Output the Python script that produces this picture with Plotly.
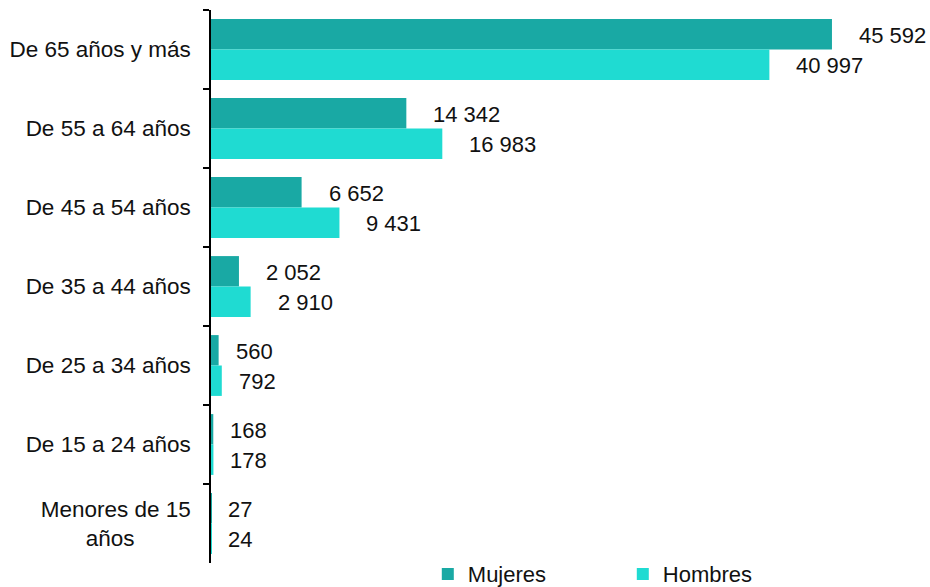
import plotly.graph_objects as go

categories = ["De 65 años y más", "De 55 a 64 años", "De 45 a 54 años", "De 35 a 44 años",
              "De 25 a 34 años", "De 15 a 24 años", "Menores de 15<br>años" + "\u00a0" * 9]
mujeres = [45592, 14342, 6652, 2052, 560, 168, 27]
hombres = [40997, 16983, 9431, 2910, 792, 178, 24]
series_names = ["Mujeres", "Hombres"]
colors = ["#19A9A4", "#1FDBD2"]

FONT = "Liberation Sans, Arial, sans-serif"

fig = go.Figure()
for name, vals, col in zip(series_names, [mujeres, hombres], colors):
    fig.add_trace(go.Bar(y=categories, x=vals, name=name, orientation="h",
                         marker=dict(color=col, line=dict(width=0))))

def fmt(v):
    return f"{v:,}".replace(",", " ")

annotations = []
for vals, ysh in [(mujeres, 14), (hombres, -16)]:
    for c, v in zip(categories, vals):
        annotations.append(dict(x=v, y=c, text=fmt(v), showarrow=False, xanchor="left",
                                yanchor="middle", xshift=25 if v >= 1000 else 15, yshift=ysh,
                                font=dict(size=22, color="#111111", family=FONT)))

fig.update_layout(
    width=930, height=587,
    margin=dict(l=211, r=38, t=10, b=24, autoexpand=False),
    paper_bgcolor="white", plot_bgcolor="white",
    barmode="group", bargap=0.23, bargroupgap=0,
    font=dict(family=FONT, size=22.5, color="#111111"),
    showlegend=True,
    legend=dict(orientation="h", xref="container", yref="container",
                x=0.46, xanchor="left", y=0.022, yanchor="middle",
                font=dict(size=22, color="#111111"), entrywidth=150, traceorder="normal"),
    annotations=annotations,
)
fig.update_xaxes(range=[0, 50000], visible=False)
fig.update_yaxes(autorange="reversed", showline=True, linecolor="#000000", linewidth=1.5,
                 ticks="outside", tickson="boundaries", ticklen=6, tickcolor="#000000",
                 tickwidth=1.5, showgrid=False, ticklabelstandoff=14, automargin=False)
fig.write_html("out.html", post_script="document.body.style.margin='0';",
               config={"displayModeBar": False})
